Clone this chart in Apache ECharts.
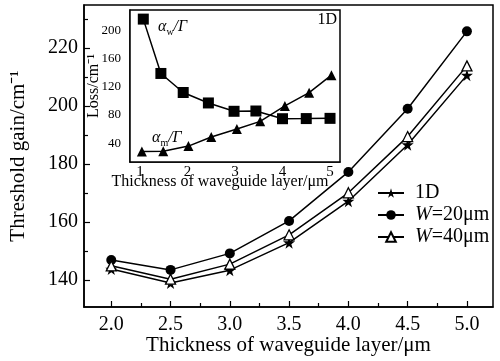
<!DOCTYPE html>
<html>
<head>
<meta charset="utf-8">
<script src="https://cdn.jsdelivr.net/npm/echarts@6/dist/echarts.min.js"></script>
<style>html,body{margin:0;padding:0;background:#fff}#c{width:500px;height:361px}</style>
</head>
<body>
<div id="c"></div>
<script>
// ---- main chart data ----
const thickness = [2.0, 2.5, 3.0, 3.5, 4.0, 4.5, 5.0];
const gain1D  = [143.8, 139.0, 143.4, 152.9, 167.2, 186.7, 210.7];
const gainW20 = [146.9, 143.5, 149.2, 160.4, 177.3, 199.1, 225.8];
const gainW40 = [144.9, 140.3, 145.5, 155.6, 170.1, 189.5, 213.9];
const seriesNames = ['1D', 'W=20μm', 'W=40μm'];
const mainXMajor = [2.0, 2.5, 3.0, 3.5, 4.0, 4.5, 5.0];
const mainXMinor = [2.25, 2.75, 3.25, 3.75, 4.25, 4.75];
const mainYMajor = [140, 160, 180, 200, 220];
const mainYMinor = [150, 170, 190, 210, 230];

// ---- inset data ----
const insetWX = [1.07, 1.44, 1.91, 2.44, 2.98, 3.44, 4.0, 4.5, 5.0];
const alphaW  = [217, 139.4, 112.2, 97.3, 85.4, 85.8, 74.8, 75.0, 75.3];
const insetMX = [1.04, 1.49, 2.02, 2.5, 3.04, 3.53, 4.05, 4.56, 5.03];
const alphaM  = [28, 28.5, 35.7, 48.6, 60, 71, 93, 112, 137];
const insetXMajor = [1, 2, 3, 4, 5];
const insetXMinor = [1.5, 2.5, 3.5, 4.5];
const insetYMajor = [40, 80, 120, 160, 200];
const insetYMinor = [20, 60, 100, 140, 180, 220];

const FONT = "'Liberation Serif', 'Times New Roman', serif";
const STAR = 'path://M50,0 L61,35 L98,35 L68,57 L79,91 L50,70 L21,91 L32,57 L2,35 L39,35 Z';
const pairs = (xs, ys) => xs.map((x, i) => [x, ys[i]]);

function axisPair(base, major, minor, majorLen, minorLen, labelOpts, extra) {
  const a = Object.assign({
    type: 'value', splitLine: {show: false}, nameMoveOverlap: false,
    axisLine: {show: true, onZero: false, lineStyle: {color: '#000', width: 1.5}},
    axisTick: {show: true, inside: true, length: majorLen, customValues: major, lineStyle: {color: '#000', width: 1.2}},
    axisLabel: Object.assign({show: true, customValues: major, color: '#000', fontFamily: FONT}, labelOpts)
  }, base, extra || {});
  const b = Object.assign({
    type: 'value', splitLine: {show: false},
    axisLine: {show: false},
    axisTick: {show: true, inside: true, length: minorLen, customValues: minor, lineStyle: {color: '#000', width: 1.2}},
    axisLabel: {show: false}
  }, base);
  return [a, b];
}

const chart = echarts.init(document.getElementById('c'), null, {renderer: 'canvas'});

const xAxes = [
  ...axisPair({gridIndex: 0, min: 1.77, max: 5.22, position: 'bottom'}, mainXMajor, mainXMinor, 6, 4,
    {fontSize: 20, margin: 8, formatter: v => v.toFixed(1)},
    {name: 'Thickness of waveguide layer/μm', nameLocation: 'middle', nameGap: 28,
     nameTextStyle: {fontSize: 21, fontFamily: FONT, color: '#000'}}),
  ...axisPair({gridIndex: 1, min: 0.79, max: 5.21, position: 'bottom'}, insetXMajor, insetXMinor, 5, 3,
    {fontSize: 15, margin: 3},
    {name: 'Thickness of waveguide layer/μm', nameLocation: 'middle', nameGap: 12,
     nameTextStyle: {fontSize: 16, fontFamily: FONT, color: '#000', padding: [0, 30, 0, 0]}})
];
const yAxes = [
  ...axisPair({gridIndex: 0, min: 130.7, max: 234.9, position: 'left'}, mainYMajor, mainYMinor, 6, 4,
    {fontSize: 20, margin: 6},
    {name: 'Threshold gain/cm⁻¹', nameLocation: 'middle', nameGap: 55,
     nameTextStyle: {fontSize: 21, fontFamily: FONT, color: '#000'}}),
  ...axisPair({gridIndex: 1, min: 13, max: 230, position: 'left'}, insetYMajor, insetYMinor, 5, 3,
    {fontSize: 13, margin: 9},
    {name: 'Loss/cm⁻¹', nameLocation: 'middle', nameGap: 28,
     nameTextStyle: {fontSize: 16, fontFamily: FONT, color: '#000'}})
];

const lineStyle = {color: '#000', width: 1.5};
const option = {
  animation: false,
  backgroundColor: '#fff',
  textStyle: {fontFamily: FONT, color: '#000'},
  grid: [
    {left: 83, right: 7, top: 5, bottom: 53, show: true, borderColor: '#000', borderWidth: 1.5, backgroundColor: 'transparent'},
    {left: 130, top: 10, width: 210, height: 152, show: true, borderColor: '#000', borderWidth: 1.5, backgroundColor: '#fff', z: 5}
  ],
  xAxis: xAxes,
  yAxis: yAxes,
  legend: {
    orient: 'vertical', left: 377, top: 183, itemWidth: 26, itemHeight: 12, itemGap: 2, padding: 0,
    data: seriesNames,
    formatter: n => n.startsWith('W') ? '{i|W}' + n.slice(1) : n,
    textStyle: {fontSize: 20, fontFamily: FONT, color: '#000', padding: [0, 0, 0, 6],
      rich: {i: {fontSize: 20, fontFamily: FONT, fontStyle: 'italic', color: '#000'}}}
  },
  series: [
    {name: seriesNames[0], type: 'line', xAxisIndex: 0, yAxisIndex: 0, data: pairs(thickness, gain1D),
     symbol: STAR, symbolSize: 12, lineStyle, itemStyle: {color: '#000'}},
    {name: seriesNames[1], type: 'line', xAxisIndex: 0, yAxisIndex: 0, data: pairs(thickness, gainW20),
     symbol: 'circle', symbolSize: 10, lineStyle, itemStyle: {color: '#000'}},
    {name: seriesNames[2], type: 'line', xAxisIndex: 0, yAxisIndex: 0, data: pairs(thickness, gainW40),
     symbol: 'triangle', symbolSize: 10, lineStyle, itemStyle: {color: '#fff', borderColor: '#000', borderWidth: 1.3}},
    {name: 'alpha_w', type: 'line', xAxisIndex: 2, yAxisIndex: 2, data: pairs(insetWX, alphaW),
     symbol: 'rect', symbolSize: 11, lineStyle, itemStyle: {color: '#000'}, z: 10},
    {name: 'alpha_m', type: 'line', xAxisIndex: 2, yAxisIndex: 2, data: pairs(insetMX, alphaM),
     symbol: 'triangle', symbolSize: 10, lineStyle, itemStyle: {color: '#000'}, z: 10}
  ],
  graphic: [
    {type: 'text', left: 158, top: 19, z: 100, style: {
      text: '{a|α}{s|w}{a|/}{g|Γ}', fill: '#000',
      rich: {
        a: {fontSize: 16, fontFamily: FONT, fontStyle: 'italic', lineHeight: 20},
        g: {fontSize: 16, fontFamily: FONT, fontStyle: 'italic', lineHeight: 20},
        s: {fontSize: 10, fontFamily: FONT, lineHeight: 10, verticalAlign: 'bottom'}
      }}},
    {type: 'text', left: 152, top: 130, z: 100, style: {
      text: '{a|α}{s|m}{a|/}{g|Γ}', fill: '#000',
      rich: {
        a: {fontSize: 16, fontFamily: FONT, fontStyle: 'italic', lineHeight: 20},
        g: {fontSize: 16, fontFamily: FONT, fontStyle: 'italic', lineHeight: 20},
        s: {fontSize: 10, fontFamily: FONT, lineHeight: 10, verticalAlign: 'bottom'}
      }}},
    {type: 'text', right: 163, top: 12, z: 100, style: {text: '1D', fontSize: 16, fontFamily: FONT, fill: '#000'}}
  ]
};
chart.setOption(option);
</script>
</body>
</html>
